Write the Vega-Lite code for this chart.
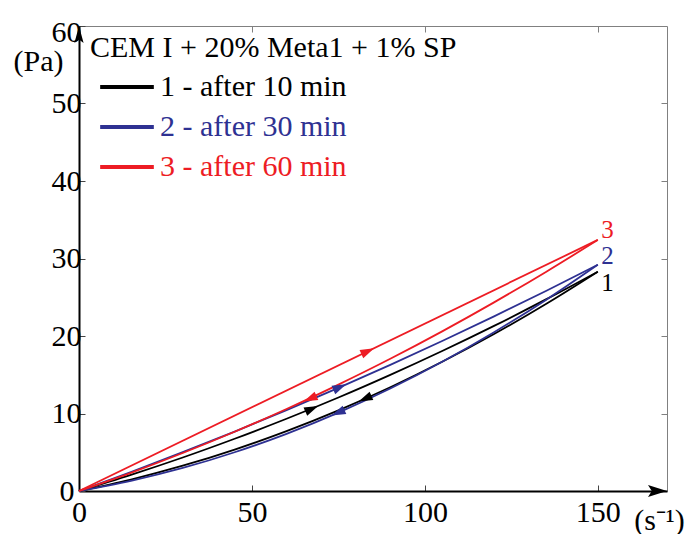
{
  "$schema": "https://vega.github.io/schema/vega-lite/v6.json",
  "width": 588,
  "height": 465,
  "autosize": "none",
  "padding": {"left": 79, "top": 26, "right": 21, "bottom": 43},
  "background": "white",
  "config": {"view": {"stroke": "#808080", "strokeWidth": 1}, "font": "Liberation Serif"},
  "datasets": {
    "curves": [
      {"series": "1 - after 10 min", "branch": "up", "x": 0, "y": 0},
      {"series": "1 - after 10 min", "branch": "up", "x": 15, "y": 2.08},
      {"series": "1 - after 10 min", "branch": "up", "x": 30, "y": 4.32},
      {"series": "1 - after 10 min", "branch": "up", "x": 45, "y": 6.74},
      {"series": "1 - after 10 min", "branch": "up", "x": 60, "y": 9.32},
      {"series": "1 - after 10 min", "branch": "up", "x": 75, "y": 12.06},
      {"series": "1 - after 10 min", "branch": "up", "x": 90, "y": 14.98},
      {"series": "1 - after 10 min", "branch": "up", "x": 105, "y": 18.06},
      {"series": "1 - after 10 min", "branch": "up", "x": 120, "y": 21.3},
      {"series": "1 - after 10 min", "branch": "up", "x": 135, "y": 24.72},
      {"series": "1 - after 10 min", "branch": "up", "x": 150, "y": 28.3},
      {"series": "1 - after 10 min", "branch": "down", "x": 0, "y": 0},
      {"series": "1 - after 10 min", "branch": "down", "x": 15, "y": 1.48},
      {"series": "1 - after 10 min", "branch": "down", "x": 30, "y": 3.26},
      {"series": "1 - after 10 min", "branch": "down", "x": 45, "y": 5.35},
      {"series": "1 - after 10 min", "branch": "down", "x": 60, "y": 7.73},
      {"series": "1 - after 10 min", "branch": "down", "x": 75, "y": 10.41},
      {"series": "1 - after 10 min", "branch": "down", "x": 90, "y": 13.39},
      {"series": "1 - after 10 min", "branch": "down", "x": 105, "y": 16.67},
      {"series": "1 - after 10 min", "branch": "down", "x": 120, "y": 20.25},
      {"series": "1 - after 10 min", "branch": "down", "x": 135, "y": 24.13},
      {"series": "1 - after 10 min", "branch": "down", "x": 150, "y": 28.3},
      {"series": "2 - after 30 min", "branch": "up", "x": 0, "y": 0},
      {"series": "2 - after 30 min", "branch": "up", "x": 15, "y": 2.45},
      {"series": "2 - after 30 min", "branch": "up", "x": 30, "y": 5.01},
      {"series": "2 - after 30 min", "branch": "up", "x": 45, "y": 7.67},
      {"series": "2 - after 30 min", "branch": "up", "x": 60, "y": 10.43},
      {"series": "2 - after 30 min", "branch": "up", "x": 75, "y": 13.3},
      {"series": "2 - after 30 min", "branch": "up", "x": 90, "y": 16.27},
      {"series": "2 - after 30 min", "branch": "up", "x": 105, "y": 19.35},
      {"series": "2 - after 30 min", "branch": "up", "x": 120, "y": 22.53},
      {"series": "2 - after 30 min", "branch": "up", "x": 135, "y": 25.81},
      {"series": "2 - after 30 min", "branch": "up", "x": 150, "y": 29.2},
      {"series": "2 - after 30 min", "branch": "down", "x": 0, "y": 0},
      {"series": "2 - after 30 min", "branch": "down", "x": 15, "y": 1.31},
      {"series": "2 - after 30 min", "branch": "down", "x": 30, "y": 2.97},
      {"series": "2 - after 30 min", "branch": "down", "x": 45, "y": 5.0},
      {"series": "2 - after 30 min", "branch": "down", "x": 60, "y": 7.38},
      {"series": "2 - after 30 min", "branch": "down", "x": 75, "y": 10.12},
      {"series": "2 - after 30 min", "branch": "down", "x": 90, "y": 13.22},
      {"series": "2 - after 30 min", "branch": "down", "x": 105, "y": 16.67},
      {"series": "2 - after 30 min", "branch": "down", "x": 120, "y": 20.49},
      {"series": "2 - after 30 min", "branch": "down", "x": 135, "y": 24.66},
      {"series": "2 - after 30 min", "branch": "down", "x": 150, "y": 29.2},
      {"series": "3 - after 60 min", "branch": "up", "x": 0, "y": 0},
      {"series": "3 - after 60 min", "branch": "up", "x": 150, "y": 32.4},
      {"series": "3 - after 60 min", "branch": "down", "x": 0, "y": 0},
      {"series": "3 - after 60 min", "branch": "down", "x": 15, "y": 2.35},
      {"series": "3 - after 60 min", "branch": "down", "x": 30, "y": 4.9},
      {"series": "3 - after 60 min", "branch": "down", "x": 45, "y": 7.64},
      {"series": "3 - after 60 min", "branch": "down", "x": 60, "y": 10.58},
      {"series": "3 - after 60 min", "branch": "down", "x": 75, "y": 13.73},
      {"series": "3 - after 60 min", "branch": "down", "x": 90, "y": 17.06},
      {"series": "3 - after 60 min", "branch": "down", "x": 105, "y": 20.6},
      {"series": "3 - after 60 min", "branch": "down", "x": 120, "y": 24.34},
      {"series": "3 - after 60 min", "branch": "down", "x": 135, "y": 28.27},
      {"series": "3 - after 60 min", "branch": "down", "x": 150, "y": 32.4}
    ],
    "markers": [
      {"series": "1 - after 10 min", "branch": "up", "x": 67.3, "y": 10.6},
      {"series": "1 - after 10 min", "branch": "down", "x": 82.7, "y": 11.9},
      {"series": "2 - after 30 min", "branch": "up", "x": 75.4, "y": 13.4},
      {"series": "2 - after 30 min", "branch": "down", "x": 74.9, "y": 10.1},
      {"series": "3 - after 60 min", "branch": "up", "x": 83.5, "y": 18.04},
      {"series": "3 - after 60 min", "branch": "down", "x": 66.8, "y": 11.9}
    ],
    "endLabels": [
      {"series": "1 - after 10 min", "label": "1", "x": 151, "y": 26.8},
      {"series": "2 - after 30 min", "label": "2", "x": 151, "y": 30.3},
      {"series": "3 - after 60 min", "label": "3", "x": 151, "y": 33.7}
    ]
  },
  "layer": [
    {
      "data": {"name": "curves"},
      "mark": {"type": "line", "strokeWidth": 1.8, "interpolate": "monotone"},
      "encoding": {
        "x": {
          "field": "x", "type": "quantitative",
          "scale": {"domain": [0, 170], "nice": false, "zero": false},
          "axis": {
            "orient": "bottom", "values": [0, 50, 100, 150], "title": "(s⁻¹)",
            "titleFont": "Liberation Serif", "titleFontSize": 30, "titleFontWeight": "normal", "titleColor": "black",
            "titleX": 580, "titleY": 38, "titleAlign": "center", "titleBaseline": "alphabetic",
            "labelFont": "Liberation Serif", "labelFontSize": 30, "labelColor": "black", "labelPadding": 12,
            "labelFlush": false, "labelOverlap": false,
            "tickSize": -6, "tickColor": "#444444", "tickWidth": 1,
            "domainColor": "black", "domainWidth": 2, "grid": false
          }
        },
        "y": {
          "field": "y", "type": "quantitative",
          "scale": {"domain": [0, 60], "nice": false},
          "axis": {
            "orient": "left", "values": [0, 10, 20, 30, 40, 50, 60], "title": "(Pa)",
            "titleFont": "Liberation Serif", "titleFontSize": 30, "titleFontWeight": "normal", "titleColor": "black",
            "titleAngle": 0, "titleX": -41, "titleY": 44, "titleAlign": "center", "titleBaseline": "alphabetic",
            "labelFont": "Liberation Serif", "labelFontSize": 30, "labelColor": "black",
            "labelPadding": {"condition": {"test": "datum.value === 0", "value": 11}, "value": 4},
            "labelOffset": {"condition": {"test": "datum.value === 60", "value": 6}, "value": 0},
            "labelFlush": false, "labelOverlap": false,
            "tickSize": -6, "tickColor": "#444444", "tickWidth": 1,
            "domainColor": "black", "domainWidth": 2, "grid": false
          }
        },
        "color": {
          "field": "series", "type": "nominal",
          "scale": {"domain": ["1 - after 10 min", "2 - after 30 min", "3 - after 60 min"], "range": ["#000000", "#2E3192", "#ED1C24"]},
          "legend": {
            "orient": "none", "legendX": 11, "legendY": 7,
            "title": "CEM I + 20% Meta1 + 1% SP",
            "titleFont": "Liberation Serif", "titleFontSize": 30, "titleFontWeight": "normal", "titleColor": "black",
            "titleLimit": 600, "titlePadding": 9,
            "labelFont": "Liberation Serif", "labelFontSize": 30, "labelLimit": 600,
            "labelOffset": 18, "symbolOffset": 22,
            "symbolType": "M-4,0L4,0", "symbolSize": 180, "symbolStrokeWidth": 4,
            "rowPadding": 10, "padding": 0,
            "encode": {"labels": {"update": {"fill": {"scale": "color", "field": "value"}}}}
          }
        },
        "detail": {"field": "branch"}
      }
    },
    {
      "data": {"name": "markers"},
      "mark": {"type": "point", "filled": true, "opacity": 1, "size": 196, "angle": -24},
      "encoding": {
        "x": {"field": "x", "type": "quantitative", "axis": null},
        "y": {"field": "y", "type": "quantitative", "axis": null},
        "color": {"field": "series", "type": "nominal"},
        "shape": {
          "field": "branch", "type": "nominal",
          "scale": {"domain": ["up", "down"], "range": ["M1,0L-1,-0.65L-1,0.65Z", "M-1,0L1,-0.65L1,0.65Z"]},
          "legend": null
        }
      }
    },
    {
      "data": {"name": "endLabels"},
      "mark": {"type": "text", "fontSize": 25, "align": "left", "baseline": "middle", "font": "Liberation Serif"},
      "encoding": {
        "x": {
          "field": "x", "type": "quantitative",
          "axis": {"orient": "top", "values": [50, 100, 150], "labels": false, "domain": false, "tickSize": -6, "tickColor": "#808080", "title": null, "grid": false}
        },
        "y": {
          "field": "y", "type": "quantitative",
          "axis": {"orient": "right", "values": [10, 20, 30, 40, 50], "labels": false, "domain": false, "tickSize": -6, "tickColor": "#808080", "title": null, "grid": false}
        },
        "text": {"field": "label"},
        "color": {"field": "series", "type": "nominal"}
      }
    },
    {
      "data": {"values": [{}]},
      "mark": {"type": "point", "shape": "M0,0L0.27,1L0,0.8L-0.27,1Z", "filled": true, "color": "black", "opacity": 1, "size": 1156},
      "encoding": {
        "x": {"datum": 0, "type": "quantitative", "axis": null},
        "y": {"datum": 60, "type": "quantitative", "axis": null}
      }
    },
    {
      "data": {"values": [{}]},
      "mark": {"type": "point", "shape": "M0,0L-1,-0.32L-0.8,0L-1,0.32Z", "filled": true, "color": "black", "opacity": 1, "size": 1444},
      "encoding": {
        "x": {"datum": 170, "type": "quantitative", "axis": null},
        "y": {"datum": 0, "type": "quantitative", "axis": null}
      }
    }
  ],
  "resolve": {"axis": {"x": "independent", "y": "independent"}}
}
